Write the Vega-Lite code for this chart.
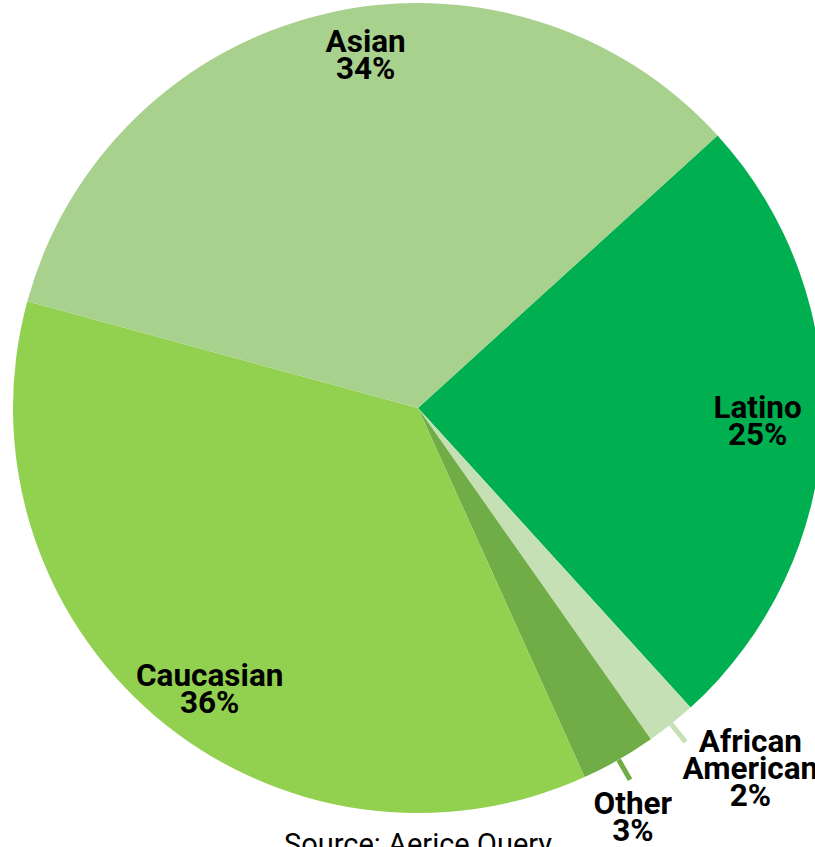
{
  "$schema": "https://vega.github.io/schema/vega-lite/v6.json",
  "width": 815,
  "height": 816,
  "autosize": {"type": "none"},
  "padding": {"left": 10.5, "top": 0, "right": -10.5, "bottom": 31},
  "background": "white",
  "view": {"stroke": null},
  "title": {
    "text": "Source: Aerice Query",
    "orient": "bottom",
    "anchor": "middle",
    "frame": "group",
    "font": "Roboto",
    "fontSize": 29,
    "fontWeight": "normal",
    "color": "#000000",
    "baseline": "top",
    "offset": -16
  },
  "data": {
    "values": [
      {"group": "Latino", "pct": 25, "ord": 1, "label": "Latino\n25%"},
      {"group": "African American", "pct": 2, "ord": 2, "label": "African\nAmerican\n2%"},
      {"group": "Other", "pct": 3, "ord": 3, "label": "Other\n3%"},
      {"group": "Caucasian", "pct": 36, "ord": 4, "label": "Caucasian\n36%"},
      {"group": "Asian", "pct": 34, "ord": 5, "label": "Asian\n34%"}
    ]
  },
  "encoding": {
    "theta": {
      "field": "pct",
      "type": "quantitative",
      "stack": true,
      "scale": {"domain": [0, 100], "range": [0.8325, 7.1157]}
    },
    "order": {"field": "ord", "type": "quantitative"},
    "color": {
      "field": "group",
      "type": "nominal",
      "scale": {
        "domain": ["Latino", "African American", "Other", "Caucasian", "Asian"],
        "range": ["#00B050", "#C5E0B4", "#70AD47", "#92D050", "#A9D18E"]
      },
      "legend": null
    }
  },
  "layer": [
    {"mark": {"type": "arc", "radius": 405}},
    {
      "mark": {"type": "arc", "filled": false, "padAngle": 1, "radius": 428, "radius2": 405, "strokeWidth": 5, "strokeCap": "butt"},
      "encoding": {
        "strokeOpacity": {
          "condition": {"test": "datum.group === 'African American' || datum.group === 'Other'", "value": 1},
          "value": 0
        }
      }
    },
    {
      "mark": {
        "type": "text",
        "font": "Roboto",
        "fontSize": 31.5,
        "fontWeight": "bold",
        "lineHeight": 27,
        "lineBreak": "\n",
        "baseline": "middle",
        "align": "center",
        "radius": {"expr": "datum.group === 'Asian' ? 357 : datum.group === 'Caucasian' ? 350 : datum.group === 'African American' ? 490 : datum.group === 'Other' ? 472 : 340"},
        "dx": {"expr": "datum.group === 'Asian' ? 31 : datum.group === 'Caucasian' ? 19 : datum.group === 'African American' ? 26 : datum.group === 'Other' ? -19 : 0"},
        "dy": {"expr": "datum.group === 'Asian' ? -18 : datum.group === 'Caucasian' ? 3 : datum.group === 'African American' ? -47 : datum.group === 'Other' ? -13 : -15"}
      },
      "encoding": {
        "text": {"field": "label", "type": "nominal"},
        "color": {"value": "#000000"}
      }
    }
  ]
}
